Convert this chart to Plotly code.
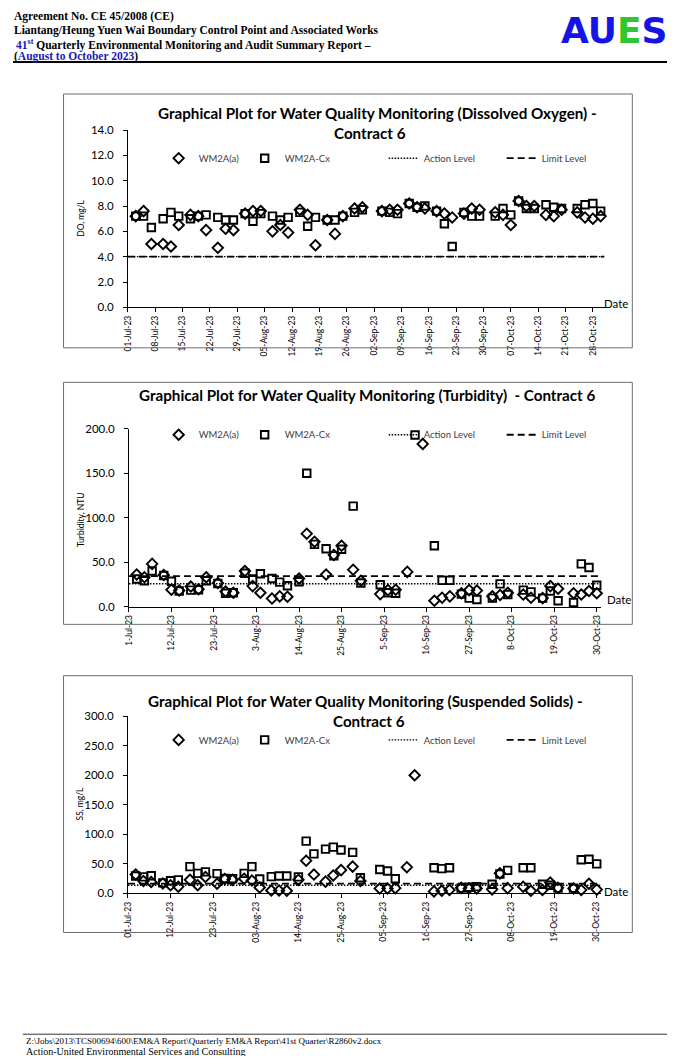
import plotly.graph_objects as go

W, H = 676, 1064          # browser window
OFF = 8                   # default body margin of the page
FW, FH = W - 2 * OFF, H - 2 * OFF

# ---------------- data ----------------
axis_start = "2023-07-01"
axis_end = "2023-10-31"

dates_do = ["2023-07-03", "2023-07-05", "2023-07-07", "2023-07-10", "2023-07-12", "2023-07-14",
            "2023-07-17", "2023-07-19", "2023-07-21", "2023-07-24", "2023-07-26", "2023-07-28",
            "2023-07-31", "2023-08-02", "2023-08-04", "2023-08-07", "2023-08-09", "2023-08-11",
            "2023-08-14", "2023-08-16", "2023-08-18", "2023-08-21", "2023-08-23", "2023-08-25",
            "2023-08-28", "2023-08-30", "2023-09-04", "2023-09-06", "2023-09-08", "2023-09-11",
            "2023-09-13", "2023-09-15", "2023-09-18", "2023-09-20", "2023-09-22", "2023-09-25",
            "2023-09-27", "2023-09-29", "2023-10-03", "2023-10-05", "2023-10-07", "2023-10-09",
            "2023-10-11", "2023-10-13", "2023-10-16", "2023-10-18", "2023-10-20", "2023-10-24",
            "2023-10-26", "2023-10-28", "2023-10-30"]
do_wm2a_a = [7.2, 7.6, 5.0, 5.0, 4.8, 6.5, 7.3, 7.2, 6.1, 4.7, 6.2, 6.1,
             7.4, 7.6, 7.6, 6.0, 6.5, 5.9, 7.7, 7.3, 4.9, 6.9, 5.8, 7.2,
             7.8, 7.9, 7.6, 7.7, 7.7, 8.2, 7.9, 7.8, 7.6, 7.4, 7.1, 7.4,
             7.8, 7.7, 7.5, 7.3, 6.5, 8.4, 8.0, 8.0, 7.3, 7.2, 7.7, 7.5,
             7.1, 7.0, 7.2]
do_wm2a_cx = [7.2, 7.2, 6.3, 7.0, 7.5, 7.2, 7.0, 7.2, 7.3, 7.1, 6.9, 6.9,
              7.4, 6.8, 7.4, 7.2, 6.9, 7.1, 7.5, 6.4, 7.1, 6.9, 6.9, 7.2,
              7.5, 7.7, 7.6, 7.5, 7.4, 8.2, 7.9, 8.0, 7.6, 6.6, 4.8, 7.5,
              7.2, 7.2, 7.2, 7.8, 7.3, 8.4, 7.8, 7.8, 8.1, 7.9, 7.8, 7.8,
              8.1, 8.2, 7.6]
do_action = 4.0
do_limit = 4.0

dates_wq = ["2023-07-03", "2023-07-05", "2023-07-07", "2023-07-10", "2023-07-12", "2023-07-14",
            "2023-07-17", "2023-07-19", "2023-07-21", "2023-07-24", "2023-07-26", "2023-07-28",
            "2023-07-31", "2023-08-02", "2023-08-04", "2023-08-07", "2023-08-09", "2023-08-11",
            "2023-08-14", "2023-08-16", "2023-08-18", "2023-08-21", "2023-08-23", "2023-08-25",
            "2023-08-28", "2023-08-30", "2023-09-04", "2023-09-06", "2023-09-08", "2023-09-11",
            "2023-09-13", "2023-09-15", "2023-09-18", "2023-09-20", "2023-09-22", "2023-09-25",
            "2023-09-27", "2023-09-29", "2023-10-03", "2023-10-05", "2023-10-07", "2023-10-11",
            "2023-10-13", "2023-10-16", "2023-10-18", "2023-10-20", "2023-10-24", "2023-10-26",
            "2023-10-28", "2023-10-30"]
turb_wm2a_a = [36, 33, 48, 35.5, 19, 18, 22.5, 19.5, 33, 26.5, 17, 15.5,
               40, 23, 15.5, 9, 11.5, 11, 31.5, 82, 73, 36, 58, 68.5,
               41.5, 29, 14, 18.5, 19, 39, None, 183, 6.5, 10, 11.5, 15,
               18.5, 18, 11.5, 13, 15.5, 13.5, 10, 9.5, 23, 20, 15, 13.5,
               17.5, 15]
turb_wm2a_cx = [31, 29, 40, 35, 28.5, 17.5, 18.5, 19, 29, 26, 15, 15.5,
                37.5, 31, 37, 31.5, 27.5, 23.5, 28, 150, 70, 65, 57, 64.5,
                113, 26.5, 24.5, 15.5, 15, None, 193, None, 68.5, 29.5, 29.5, 14,
                9.5, 8, 9.5, 25.5, 13.5, 18.5, 16.5, 9.5, 17.5, 6.5, 4.5, 48,
                44, 24]
turb_action = 25.6
turb_limit = 34.3

ss_wm2a_a = [32, 21, 19.5, 17, 14, 11.5, 23, 14, 28, 16.5, 24.5, 23,
             25, 22, 10, 5, 5, 4.5, 23, 55.5, 32, 20, 30.5, 39.5,
             45.5, 21, 8.5, 8.5, 9, 44.5, 200, None, 3.5, 4.5, 6, 9.5,
             8.5, 8.5, 7, 34, 9, 11.5, 4.5, 6, 18.5, 9.5, 8.5, 6,
             16.5, 6.5]
ss_wm2a_cx = [29.5, 28, 30, 18, 21.5, 23, 45.5, 34, 36.5, 33.5, 25.5, 25,
              34, 45.5, 24.5, 28.5, 29.5, 29.5, 28, 88.5, 67, 75, 78.5, 73.5,
              69.5, 26.5, 40.5, 38, 25, None, None, None, 43.5, 42, 43.5, 9,
              10.5, 11.5, 15.5, 33, 39, 43.5, 43.5, 15.5, 14, 9, 9, 57,
              58, 50]
ss_action = 13.8
ss_limit = 16.6

series_names = ["WM2A(a)", "WM2A-Cx", "Action Level", "Limit Level"]

# ---------------- layout helpers (page pixel -> paper) ----------------
def px(x):
    return (x - OFF) / FW


def py(y):
    return 1 - (y - OFF) / FH


FONT = "Lato"
SERIF = "Liberation Serif"

charts = [
    dict(dates=dates_do, a=do_wm2a_a, cx=do_wm2a_cx, act=do_action, lim=do_limit,
         x0=124, x1=605, y0=124.5, y1=304, ymax=14, ydt=2, dt=7, fmt="%d-%b-%y", legy=153),
    dict(dates=dates_wq, a=turb_wm2a_a, cx=turb_wm2a_cx, act=turb_action, lim=turb_limit,
         x0=125, x1=601, y0=427, y1=607, ymax=200, ydt=50, dt=11, fmt="%-d-%b-%y", legy=433),
    dict(dates=dates_wq, a=ss_wm2a_a, cx=ss_wm2a_cx, act=ss_action, lim=ss_limit,
         x0=124, x1=601, y0=718, y1=897.5, ymax=300, ydt=50, dt=11, fmt="%d-%b-%y", legy=742),
]

fig = go.Figure()
layout = dict(
    width=FW, height=FH, margin=dict(l=0, r=0, t=0, b=0),
    paper_bgcolor="white", plot_bgcolor="white",
    font=dict(family=FONT, color="black"),
    annotations=[], shapes=[],
)

for i, c in enumerate(charts):
    s = "" if i == 0 else str(i + 1)
    leg = "legend" if i == 0 else "legend" + str(i + 1)
    xa, ya = "x" + s, "y" + s
    fig.add_trace(go.Scatter(
        x=c["dates"], y=c["a"], mode="markers", name=series_names[0],
        marker=dict(symbol="diamond-open", size=8, color="black", line=dict(width=1.9, color="black")),
        xaxis=xa, yaxis=ya, legend=leg, legendwidth=41, cliponaxis=False))
    fig.add_trace(go.Scatter(
        x=c["dates"], y=c["cx"], mode="markers", name=series_names[1],
        marker=dict(symbol="square-open", size=7.5, color="black", line=dict(width=1.9, color="black")),
        xaxis=xa, yaxis=ya, legend=leg, legendwidth=94, cliponaxis=False))
    fig.add_trace(go.Scatter(
        x=[axis_start, axis_end], y=[c["act"], c["act"]], mode="lines", name=series_names[2],
        line=dict(color="black", width=1.4, dash="1.5px,1.5px"),
        xaxis=xa, yaxis=ya, legend=leg, legendwidth=73))
    fig.add_trace(go.Scatter(
        x=[axis_start, axis_end], y=[c["lim"], c["lim"]], mode="lines", name=series_names[3],
        line=dict(color="black", width=1.8, dash="7px,4px"),
        xaxis=xa, yaxis=ya, legend=leg, legendwidth=60))

    layout["xaxis" + s] = dict(
        domain=[px(c["x0"]), px(c["x1"])], anchor=ya, type="date",
        range=[axis_start, axis_end], tick0=axis_start, dtick=c["dt"] * 86400000,
        tickformat=c["fmt"], tickangle=-90, ticks="outside", ticklen=4, tickcolor="black",
        showline=True, linecolor="black", linewidth=1, showgrid=False, zeroline=False,
        tickfont=dict(family=FONT, size=8.5, color="black"))
    layout["yaxis" + s] = dict(
        domain=[py(c["y1"]), py(c["y0"])], anchor=xa, range=[0, c["ymax"]], dtick=c["ydt"],
        tickformat=".1f", ticks="outside", ticklen=4, tickcolor="black",
        showline=True, linecolor="black", linewidth=1, showgrid=False, zeroline=False,
        ticklabelstandoff=7, tickfont=dict(family=FONT, size=11.5, color="black"))
    layout[leg] = dict(
        orientation="h", x=px(155), y=py(c["legy"]), xanchor="left", yanchor="middle",
        bgcolor="rgba(0,0,0,0)", borderwidth=0, itemwidth=30,
        font=dict(family=FONT, size=9.5, color="#404040"))

# chart frames
for (t, b) in [(88, 345), (380, 625), (677, 937)]:
    layout["shapes"].append(dict(type="rect", xref="paper", yref="paper",
                                 x0=px(59), x1=px(633), y0=py(b), y1=py(t),
                                 line=dict(color="#6f6f6f", width=1)))
# header / footer rules
layout["shapes"].append(dict(type="line", xref="paper", yref="paper", x0=0, x1=1,
                             y0=py(55.5), y1=py(55.5), line=dict(color="black", width=2)))
layout["shapes"].append(dict(type="line", xref="paper", yref="paper", x0=px(18), x1=1,
                             y0=py(1040), y1=py(1040), line=dict(color="black", width=0.8)))


def ann(text, x, y, size, family=FONT, color="black", xanchor="center", angle=0):
    layout["annotations"].append(dict(
        text=text, x=px(x), y=py(y), xref="paper", yref="paper", showarrow=False,
        xanchor=xanchor, yanchor="middle", textangle=angle, borderpad=0,
        font=dict(family=family, size=size, color=color)))


# chart titles
TS = 15.2
ann("<b>Graphical Plot for Water Quality Monitoring (Dissolved Oxygen) -</b>", 376, 107, TS)
ann("<b>Contract 6</b>", 368, 127, TS)
ann("<b>Graphical Plot for Water Quality Monitoring (Turbidity)  - Contract 6</b>", 365, 393, TS)
ann("<b>Graphical Plot for Water Quality Monitoring (Suspended Solids) -</b>", 364, 703, TS)
ann("<b>Contract 6</b>", 367, 723, TS)

# axis titles
ann("DO, mg/L", 77, 214, 8.5, angle=-90)
ann("Turbidity, NTU", 76, 519, 8.5, angle=-90)
ann("SS, mg/L", 76, 806, 8.5, angle=-90)
ann("Date", 603, 300, 11.5, xanchor="left")
ann("Date", 606, 600, 11.5, xanchor="left")
ann("Date", 603, 896, 11.5, xanchor="left")

# header
BLUE = "#1a1ab4"
ann("<b>Agreement No. CE 45/2008 (CE)</b>", 8, 9.5, 11.5, family=SERIF, xanchor="left")
ann("<b>Liantang/Heung Yuen Wai Boundary Control Point and Associated Works</b>", 8, 23.5, 11.5,
    family=SERIF, xanchor="left")
ann("<b><span style='color:%s'>41<sup>st</sup></span> Quarterly Environmental Monitoring and Audit Summary Report –</b>" % BLUE,
    10, 37.5, 11.5, family=SERIF, xanchor="left")
ann("<b>(<span style='color:%s'>August to October 2023</span>)</b>" % BLUE, 8, 50.5, 11.5,
    family=SERIF, xanchor="left")
ann("<b><span style='color:#1414e6'>AU</span><span style='color:#2ec82e'>E</span><span style='color:#1414e6'>S</span></b>",
    615, 24, 36, family="DejaVu Sans")

# footer
ann("Z:\\Jobs\\2013\\TCS00694\\600\\EM&A Report\\Quarterly EM&A Report\\41st Quarter\\R2860v2.docx",
    20, 1047, 9, family=SERIF, xanchor="left")
ann("Action-United Environmental Services and Consulting", 20, 1057.5, 10, family=SERIF, xanchor="left")

fig.update_layout(**layout)
fig.write_html("out.html", config={"displayModeBar": False})
